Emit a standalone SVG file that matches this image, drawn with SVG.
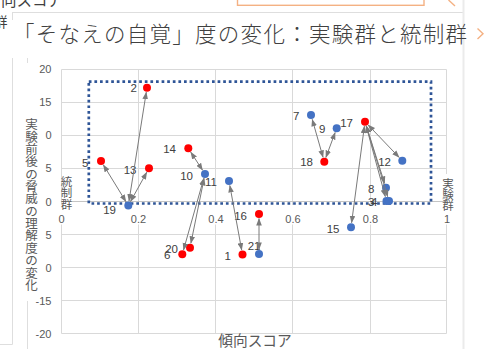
<svg xmlns="http://www.w3.org/2000/svg" width="501" height="349" viewBox="0 0 501 349">
<defs>
<marker id="ah" viewBox="0 0 8 6" refX="7.5" refY="3" markerWidth="7.5" markerHeight="6" markerUnits="userSpaceOnUse" orient="auto-start-reverse"><path d="M0,0 L8,3 L0,6 z" fill="#7a7a7a"/></marker>
<style>
.grid{stroke:#d9d9d9;stroke-width:1;fill:none}
.ui{stroke:#dedede;stroke-width:1;fill:none}
.tick{font-family:'Liberation Sans',Arial,sans-serif;font-size:11px;fill:#595959}
.ytick{text-anchor:end}
.xtick{text-anchor:middle}
.lbl{font-family:'Liberation Sans',Arial,sans-serif;font-size:11.5px;fill:#404040;text-anchor:end}
.cjk{font-family:'Noto Sans CJK JP',sans-serif}
.red{fill:#ff0000}
.blue{fill:#4472c4}
.conn line{stroke:#7a7a7a;stroke-width:1;fill:none}
.orange{stroke:#f4b183;stroke-width:1.4;fill:none}
</style>
</defs>
<rect x="0" y="0" width="501" height="349" fill="#ffffff"/>

<!-- surrounding UI fragments -->
<g id="ui">
<line class="ui" x1="12" y1="12.5" x2="463" y2="12.5"/>
<line class="ui" x1="12.5" y1="13" x2="12.5" y2="20"/>
<line class="ui" x1="12.5" y1="58" x2="12.5" y2="344.5"/>
<line class="ui" x1="0" y1="344.5" x2="12.5" y2="344.5"/>
<line class="ui" x1="27.5" y1="58" x2="27.5" y2="63"/>
<line class="ui" x1="27.5" y1="301" x2="27.5" y2="349"/>
<rect x="462.5" y="0" width="2" height="349" fill="#ebebeb"/>
<rect class="orange" x="237.5" y="-10" width="186.5" height="15.3"/>
<polyline class="orange" points="448.5,0 455,6"/>
<polyline class="orange" points="477.5,28.5 483,33.7 477.5,39"/>
<text class="cjk" x="1" y="5.5" font-size="15.5" fill="#404040">向スコア</text>
<text class="cjk" x="-6.5" y="27" font-size="14" fill="#404040">群</text>
</g>

<text id="title" class="cjk" x="13" y="41.5" font-size="21.5" font-weight="300" fill="#404040" textLength="454" lengthAdjust="spacing">「そなえの自覚」度の変化：実験群と統制群</text>

<!-- plot gridlines -->
<g id="grid">
<line class="grid" x1="61.5" y1="69.5" x2="446.5" y2="69.5"/>
<line class="grid" x1="61.5" y1="102.5" x2="446.5" y2="102.5"/>
<line class="grid" x1="61.5" y1="135.5" x2="446.5" y2="135.5"/>
<line class="grid" x1="61.5" y1="168.5" x2="446.5" y2="168.5"/>
<line class="grid" x1="61.5" y1="234.5" x2="446.5" y2="234.5"/>
<line class="grid" x1="61.5" y1="267.5" x2="446.5" y2="267.5"/>
<line class="grid" x1="61.5" y1="300.5" x2="446.5" y2="300.5"/>
<line class="grid" x1="61.5" y1="333.5" x2="446.5" y2="333.5"/>
<line class="grid" x1="61.5" y1="69.5" x2="61.5" y2="333.5"/>
<line class="grid" x1="138.5" y1="69.5" x2="138.5" y2="333.5"/>
<line class="grid" x1="215.5" y1="69.5" x2="215.5" y2="333.5"/>
<line class="grid" x1="292.5" y1="69.5" x2="292.5" y2="333.5"/>
<line class="grid" x1="370.5" y1="69.5" x2="370.5" y2="333.5"/>
<line class="grid" x1="446.5" y1="69.5" x2="446.5" y2="333.5"/>
<rect x="55" y="205" width="397" height="19.5" fill="#ffffff"/>
<rect x="441" y="174" width="14" height="37" fill="#ffffff"/>
<line x1="61.5" y1="201.5" x2="446.5" y2="201.5" stroke="#c4c4c4" stroke-width="1"/>
</g>

<!-- dotted selection box -->
<rect id="box" x="88.8" y="81.7" width="342.2" height="121.8" fill="none" stroke="#2f5597" stroke-width="2.7" stroke-dasharray="2.7 2.9"/>

<!-- axes labels -->
<g id="yticks" class="tick ytick">
<text x="51.5" y="72.5">20</text>
<text x="51.5" y="105.8">15</text>
<text x="51.5" y="139.3">0</text>
<text x="51.5" y="171.8">5</text>
<text x="51.5" y="206.3">0</text>
<text x="51.5" y="239.3">5</text>
<text x="51.5" y="271.5">0</text>
<text x="51.5" y="305">-15</text>
<text x="51.5" y="338">-20</text>
</g>
<g id="xticks" class="tick xtick">
<text x="61.5" y="223">0</text>
<text x="138.5" y="223">0.2</text>
<text x="216" y="223">0.4</text>
<text x="293" y="223">0.6</text>
<text x="370.5" y="223">0.8</text>
<text x="447" y="223">1</text>
</g>
<text id="ytitle" class="cjk" font-size="12.5" fill="#595959" text-anchor="middle">
<tspan x="31.5" y="129.3">実</tspan><tspan x="31.5" y="141.6">験</tspan><tspan x="31.5" y="154">前</tspan><tspan x="31.5" y="166.3">後</tspan><tspan x="31.5" y="178.7">の</tspan><tspan x="31.5" y="191">脅</tspan><tspan x="31.5" y="203.4">威</tspan><tspan x="31.5" y="215.7">の</tspan><tspan x="31.5" y="228.1">理</tspan><tspan x="31.5" y="240.4">解</tspan><tspan x="31.5" y="252.8">度</tspan><tspan x="31.5" y="265.1">の</tspan><tspan x="31.5" y="277.5">変</tspan><tspan x="31.5" y="289.8">化</tspan>
</text>
<text id="xtitle" class="cjk" x="255" y="345.5" font-size="14.7" fill="#595959" text-anchor="middle">傾向スコア</text>
<text id="ctrl" class="cjk" font-size="11.5" fill="#595959" text-anchor="middle">
<tspan x="66.5" y="186">統</tspan><tspan x="66.5" y="197.3">制</tspan><tspan x="66.5" y="208.6">群</tspan>
</text>
<text id="expt" class="cjk" font-size="11.5" fill="#595959" text-anchor="middle">
<tspan x="448" y="187.5">実</tspan><tspan x="448" y="198.7">験</tspan><tspan x="448" y="209.9">群</tspan>
</text>

<!-- nodes -->
<g id="nodes">
<g id="n1"><circle class="red" cx="242.5" cy="254.5" r="4"/><text class="lbl" x="231" y="259.5">1</text></g>
<g id="n2"><circle class="red" cx="147" cy="87.7" r="4"/><text class="lbl" x="137" y="92">2</text></g>
<g id="n3"><circle class="blue" cx="386.5" cy="201" r="4"/><text class="lbl" x="374.5" y="205.5">3</text></g>
<g id="n4"><circle class="blue" cx="389" cy="201" r="4"/><text class="lbl" x="377.5" y="205.5">4</text></g>
<g id="n5"><circle class="red" cx="101" cy="161" r="4"/><text class="lbl" x="88.5" y="167">5</text></g>
<g id="n6"><circle class="red" cx="182.3" cy="254.3" r="4"/><text class="lbl" x="170.5" y="258.5">6</text></g>
<g id="n7"><circle class="blue" cx="311" cy="115" r="4"/><text class="lbl" x="299.5" y="119.5">7</text></g>
<g id="n8"><circle class="blue" cx="386" cy="187.7" r="4"/><text class="lbl" x="374.5" y="193">8</text></g>
<g id="n9"><circle class="blue" cx="336.7" cy="128.3" r="4"/><text class="lbl" x="325.5" y="132.5">9</text></g>
<g id="n10"><circle class="blue" cx="205" cy="174" r="4"/><text class="lbl" x="193" y="180">10</text></g>
<g id="n11"><circle class="blue" cx="229" cy="181" r="4"/><text class="lbl" x="217" y="186">11</text></g>
<g id="n12"><circle class="blue" cx="402.3" cy="160.7" r="4"/><text class="lbl" x="391" y="166">12</text></g>
<g id="n13"><circle class="red" cx="149" cy="168.3" r="4"/><text class="lbl" x="136.5" y="174">13</text></g>
<g id="n14"><circle class="red" cx="188.3" cy="148.3" r="4"/><text class="lbl" x="176" y="153">14</text></g>
<g id="n15"><circle class="blue" cx="351" cy="227.3" r="4"/><text class="lbl" x="339.5" y="232.5">15</text></g>
<g id="n16"><circle class="red" cx="259" cy="214" r="4"/><text class="lbl" x="247" y="220">16</text></g>
<g id="n17"><circle class="red" cx="365" cy="121.7" r="4"/><text class="lbl" x="353" y="126.5">17</text></g>
<g id="n18"><circle class="red" cx="324.3" cy="161.7" r="4"/><text class="lbl" x="313" y="166">18</text></g>
<g id="n19"><circle class="blue" cx="128.3" cy="205.5" r="4"/><text class="lbl" x="116" y="213.5">19</text></g>
<g id="n20"><circle class="red" cx="190" cy="247.7" r="4"/><text class="lbl" x="178" y="252.5">20</text></g>
<g id="n21"><circle class="blue" cx="259" cy="254" r="4"/><text class="lbl" x="260.5" y="249.5">21</text></g>
</g>

<!-- connectors (double-headed arrows) -->
<g id="connectors" class="conn">
<line x1="125.95" y1="201.67" x2="103.35" y2="164.83" marker-start="url(#ah)" marker-end="url(#ah)"/>
<line x1="129" y1="201.06" x2="146.29" y2="92.14" marker-start="url(#ah)" marker-end="url(#ah)"/>
<line x1="130.49" y1="201.57" x2="146.81" y2="172.23" marker-start="url(#ah)" marker-end="url(#ah)"/>
<line x1="190.75" y1="152.07" x2="202.55" y2="170.23" marker-start="url(#ah)" marker-end="url(#ah)"/>
<line x1="204.1" y1="178.41" x2="190.9" y2="243.29" marker-start="url(#ah)" marker-end="url(#ah)"/>
<line x1="203.78" y1="178.33" x2="183.52" y2="249.97" marker-start="url(#ah)" marker-end="url(#ah)"/>
<line x1="229.81" y1="185.43" x2="241.69" y2="250.07" marker-start="url(#ah)" marker-end="url(#ah)"/>
<line x1="259" y1="218.5" x2="259" y2="249.5" marker-start="url(#ah)" marker-end="url(#ah)"/>
<line x1="312.23" y1="119.33" x2="323.07" y2="157.37" marker-start="url(#ah)" marker-end="url(#ah)"/>
<line x1="325.87" y1="157.48" x2="335.13" y2="132.52" marker-start="url(#ah)" marker-end="url(#ah)"/>
<line x1="368.11" y1="124.95" x2="399.19" y2="157.45" marker-start="url(#ah)" marker-end="url(#ah)"/>
<line x1="366.36" y1="125.99" x2="384.64" y2="183.41" marker-start="url(#ah)" marker-end="url(#ah)"/>
<line x1="366.18" y1="126.04" x2="385.32" y2="196.66" marker-start="url(#ah)" marker-end="url(#ah)"/>
<line x1="366.3" y1="126.01" x2="387.7" y2="196.69" marker-start="url(#ah)" marker-end="url(#ah)"/>
<line x1="364.41" y1="126.16" x2="351.59" y2="222.84" marker-start="url(#ah)" marker-end="url(#ah)"/>
</g>
</svg>
